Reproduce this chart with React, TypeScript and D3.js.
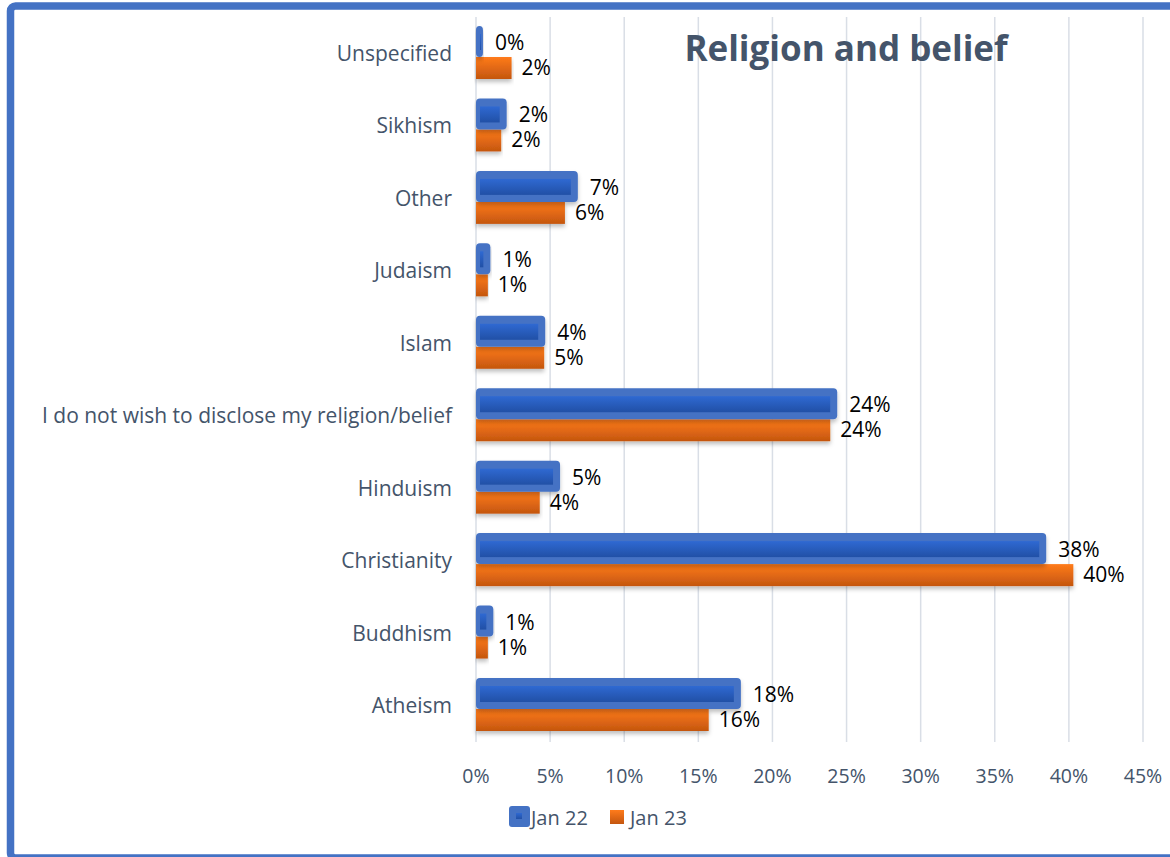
import React from "react";
import * as d3 from "d3";

const categories = [
  "Unspecified",
  "Sikhism",
  "Other",
  "Judaism",
  "Islam",
  "I do not wish to disclose my religion/belief",
  "Hinduism",
  "Christianity",
  "Buddhism",
  "Atheism",
];
const jan22 = [0.002, 0.018, 0.066, 0.007, 0.044, 0.241, 0.054, 0.382, 0.009, 0.176];
const jan23 = [0.024, 0.017, 0.06, 0.008, 0.046, 0.239, 0.043, 0.403, 0.008, 0.157];
const xTicks = [0, 0.05, 0.1, 0.15, 0.2, 0.25, 0.3, 0.35, 0.4, 0.45];
const seriesNames = ["Jan 22", "Jan 23"];

const W = 1170;
const H = 857;
const FONT = "'Open Sans', Lato, sans-serif";
const SLATE = "#44546A";

export default function App() {
  const x = d3.scaleLinear().domain([0, 0.45]).range([476, 1143]);
  const y = d3.scalePoint<string>().domain(categories).range([57, 709]);
  const pct = d3.format(".0%");

  return (
    <svg
      width={W}
      height={H}
      style={{ position: "absolute", left: 0, top: 0, background: "#fff" }}
      fontFamily={FONT}
    >
      <defs>
        <linearGradient id="gBlue" x1="0" y1="0" x2="0" y2="1">
          <stop offset="0" stopColor="#2f69d2" />
          <stop offset="1" stopColor="#2150a6" />
        </linearGradient>
        <linearGradient id="gOrange" x1="0" y1="0" x2="0" y2="1">
          <stop offset="0" stopColor="#ff7b1b" />
          <stop offset="1" stopColor="#c4560f" />
        </linearGradient>
        <filter id="shadow" x="-5%" y="-30%" width="110%" height="180%">
          <feDropShadow dx="0" dy="3" stdDeviation="2" floodColor="#000" floodOpacity="0.25" />
        </filter>
      </defs>

      {/* frame */}
      <rect
        x={10.5}
        y={6}
        width={1220}
        height={852}
        rx={5}
        fill="none"
        stroke="#4472C4"
        strokeWidth={7.5}
      />

      {/* gridlines */}
      {xTicks.map((t) => (
        <line
          key={"g" + t}
          x1={x(t)}
          x2={x(t)}
          y1={17}
          y2={742}
          stroke="#d9dee6"
          strokeWidth={1.5}
        />
      ))}

      {/* title */}
      <text
        x={846}
        y={47}
        textAnchor="middle"
        dominantBaseline="central"
        fontSize={35}
        fontWeight={700}
        fill={SLATE}
      >
        Religion and belief
      </text>

      {/* bars */}
      {categories.map((c, i) => {
        const b = y(c)!;
        const x0 = x(0);
        const xb = x(jan22[i]);
        const xo = x(jan23[i]);
        return (
          <g key={c}>
            <rect
              x={x0}
              y={b}
              width={Math.max(0, xo - x0)}
              height={22}
              fill="url(#gOrange)"
              filter="url(#shadow)"
            />
            <rect
              x={x0}
              y={b - 31}
              width={Math.max(0, xb - x0) + 4}
              height={31}
              rx={4}
              fill="#4472C4"
              filter="url(#shadow)"
            />
            <rect
              x={x0 + 4}
              y={b - 23}
              width={Math.max(1, xb - x0 - 7)}
              height={16}
              fill="url(#gBlue)"
            />
            <text
              x={xb + 16}
              y={b - 15}
              dominantBaseline="central"
              fontSize={21}
              fill="#000"
            >
              {pct(Math.round(jan22[i] * 100) / 100)}
            </text>
            <text
              x={xo + 10}
              y={b + 10}
              dominantBaseline="central"
              fontSize={21}
              fill="#000"
            >
              {pct(Math.round(jan23[i] * 100) / 100)}
            </text>
            <text
              x={452}
              y={b - 4}
              textAnchor="end"
              dominantBaseline="central"
              fontSize={21}
              fill={SLATE}
            >
              {c}
            </text>
          </g>
        );
      })}

      {/* x tick labels */}
      {xTicks.map((t) => (
        <text
          key={"t" + t}
          x={x(t)}
          y={775}
          textAnchor="middle"
          dominantBaseline="central"
          fontSize={19.5}
          fill={SLATE}
        >
          {pct(t)}
        </text>
      ))}

      {/* legend */}
      <g>
        <rect x={509} y={806} width={21} height={21} rx={3} fill="#4472C4" />
        <rect x={516} y={813} width={6} height={6} fill="url(#gBlue)" />
        <text x={531} y={817} dominantBaseline="central" fontSize={20} fill={SLATE}>
          {seriesNames[0]}
        </text>
        <rect x={610} y={810} width={14} height={14} fill="url(#gOrange)" />
        <text x={630} y={817} dominantBaseline="central" fontSize={20} fill={SLATE}>
          {seriesNames[1]}
        </text>
      </g>
    </svg>
  );
}
